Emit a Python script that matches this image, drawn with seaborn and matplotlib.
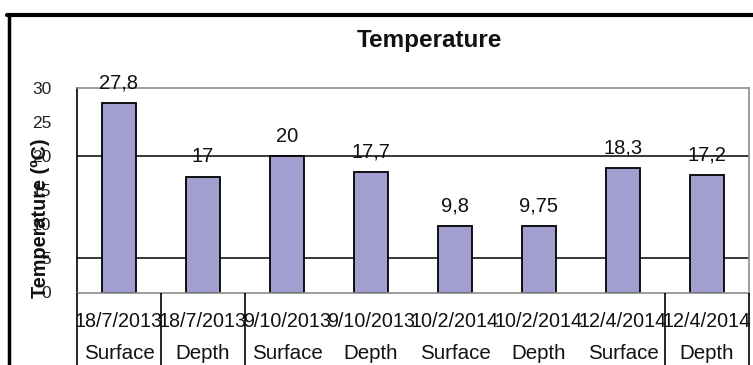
import matplotlib
matplotlib.use("Agg")
import matplotlib.pyplot as plt
from matplotlib.lines import Line2D
from matplotlib.ticker import FixedLocator
import seaborn as sns
import pandas as pd

# Sampling dates, depth level and measured temperature
dates = ["18/7/2013", "18/7/2013", "9/10/2013", "9/10/2013",
         "10/2/2014", "10/2/2014", "12/4/2014", "12/4/2014"]
levels = ["Surface", "Depth", "Surface", "Depth",
          "Surface", "Depth", "Surface", "Depth"]
temps = [27.8, 17, 20, 17.7, 9.8, 9.75, 18.3, 17.2]
y_ticks = [0, 5, 10, 15, 20, 25, 30]
grid_levels = [5, 20]
tick_marks = [5, 20, 30]

df = pd.DataFrame({
    "sample": [f"{d} {l}" for d, l in zip(dates, levels)],
    "date": dates,
    "level": levels,
    "temp": temps,
})

sns.set_theme(style="white")
plt.rcParams["font.family"] = ["Liberation Sans", "DejaVu Sans"]

W, H = 753, 365
fig = plt.figure(figsize=(W / 100, H / 100), dpi=100)
ax = fig.add_axes([77 / W, 1 - 292.5 / H, 672 / W, 204.5 / H])

for g in grid_levels:
    ax.axhline(g, color="black", lw=1.1, zorder=0)

sns.barplot(data=df, x="sample", y="temp", order=df["sample"], ax=ax,
            color="#a09fcf", saturation=1, width=0.415,
            edgecolor="black", linewidth=1.3, zorder=2)

ax.set_xlim(-0.5, len(temps) - 0.5)
ax.set_ylim(0, 30)
ax.set_xlabel("")
ax.set_ylabel("")

# value labels with comma decimal separator
for i, v in enumerate(temps):
    ax.annotate(f"{v:g}".replace(".", ","), (i, v), xytext=(0, 14.5),
                textcoords="offset points", ha="center", va="center",
                fontsize=14.5, color="#111111", zorder=4)

# y axis
ax.yaxis.set_major_locator(FixedLocator(y_ticks))
ax.set_yticklabels([str(t) for t in y_ticks], fontsize=12.5, color="#222222")
ax.yaxis.set_minor_locator(FixedLocator(tick_marks))
ax.tick_params(axis="y", which="major", length=0, pad=18.5)
ax.tick_params(axis="y", which="minor", length=5, width=1.1, color="black", left=True)

# x axis: two rows of labels (date, level)
ax.set_xticks(range(len(temps)))
ax.set_xticklabels([])
ax.tick_params(axis="x", length=0)
xt = ax.get_xaxis_transform()
for i, (d, l) in enumerate(zip(dates, levels)):
    ax.text(i, -0.1687, d, transform=xt, ha="center", va="baseline",
            fontsize=14.2, color="#111111", clip_on=False)
    ax.text(i, -0.3276, l, transform=xt, ha="center", va="baseline",
            fontsize=14.8, color="#111111", clip_on=False)

# separators between category cells in the label area
ax.vlines([-0.5, 0.5, 1.5, 6.5, 7.5], -0.4, 0, transform=xt, colors="black",
          lw=1.2, clip_on=False, zorder=5)

for side in ["top", "right", "bottom"]:
    ax.spines[side].set_color("#8c8c8c")
    ax.spines[side].set_linewidth(1.2)
ax.spines["left"].set_color("black")
ax.spines["left"].set_linewidth(1.2)

fig.text(429 / W, 1 - 40 / H, "Temperature", ha="center", va="center",
         fontsize=17.5, fontweight="bold", color="#111111")
fig.text(40 / W, 1 - 218 / H, "Temperature (ºC)", ha="center", va="center",
         rotation=90, fontsize=14.3, fontweight="bold", color="#111111")

# chart frame
fig.add_artist(Line2D([7 / W, 1], [1 - 14.5 / H] * 2, color="black", lw=3,
                      transform=fig.transFigure))
fig.add_artist(Line2D([9 / W] * 2, [0, 1 - 14.5 / H], color="black", lw=2.5,
                      transform=fig.transFigure))

fig.savefig("out.png", dpi=100)
